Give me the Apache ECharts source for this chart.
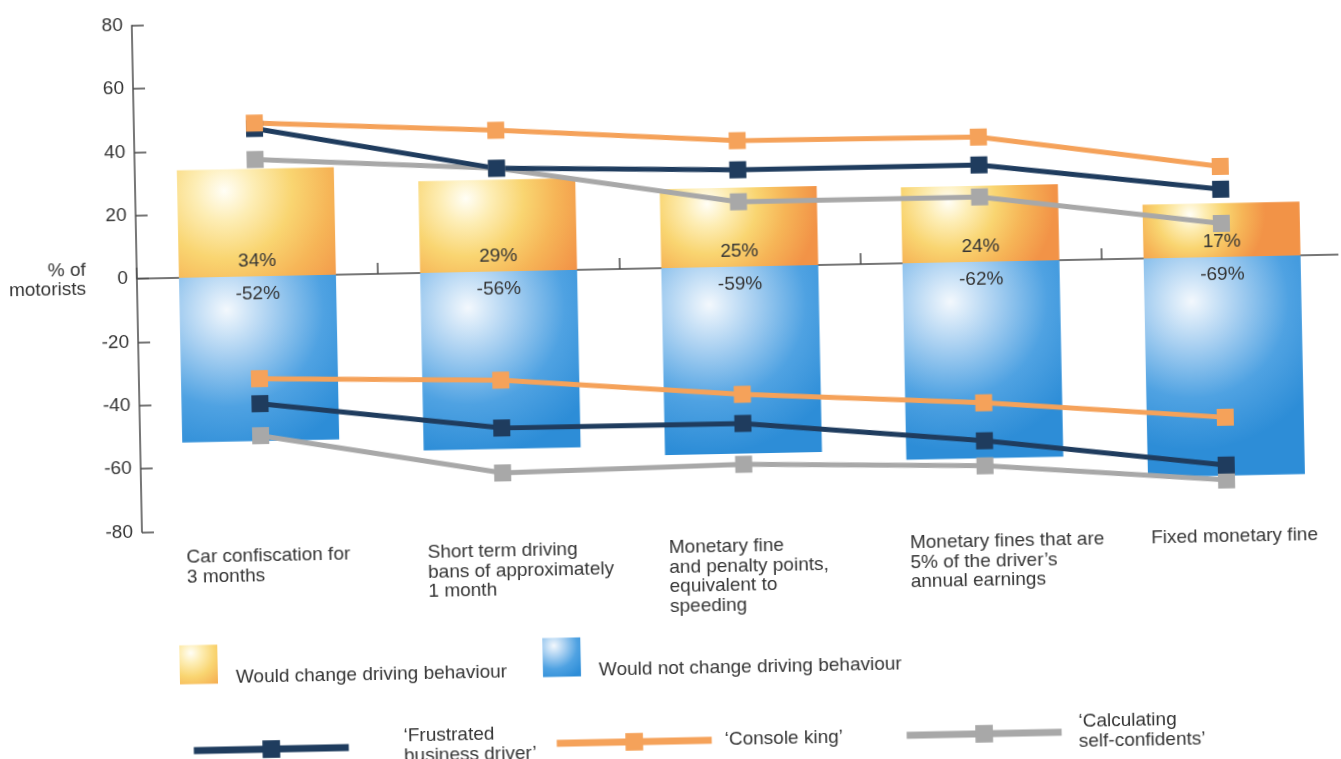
<!DOCTYPE html>
<html>
<head>
<meta charset="utf-8">
<title>Reactions of motorist types to penalties</title>
<script src="https://cdn.jsdelivr.net/npm/echarts@6/dist/echarts.min.js"></script>
<style>
  html, body { margin: 0; padding: 0; background: #ffffff; overflow: hidden; }
  #chart { width: 1341px; height: 759px; transform: rotate(-1.15deg); transform-origin: 50% 50%; }
</style>
</head>
<body>
<div id="chart"></div>
<script>
// Penalty types along the horizontal axis
const categories = [
  'Car confiscation for\n3 months',
  'Short term driving\nbans of approximately\n1 month',
  'Monetary fine\nand penalty points,\nequivalent to\nspeeding',
  'Monetary fines that are\n5% of the driver\u2019s\nannual earnings',
  'Fixed monetary fine'
];

// Share of all motorists (bars)
const wouldChange = [34, 29, 25, 24, 17];
const wouldNotChange = [-52, -56, -59, -62, -69];

// Motorist types: upper line = would change, lower line = would not change
const frustratedChange = [46.7, 32.6, 30.6, 30.6, 21.4];
const frustratedNoChange = [-40.2, -49.4, -49.5, -56.5, -65.7];
const consoleChange = [48.4, 44.6, 39.8, 39.4, 28.6];
const consoleNoChange = [-32.3, -34.3, -40.3, -44.5, -50.6];
const calculatingChange = [36.9, 32.6, 20.5, 20.5, 10.6];
const calculatingNoChange = [-50.3, -63.6, -62.4, -64.4, -70.4];

// Value axis
const yMin = -80, yMax = 80, yStep = 20;
const yAxisName = '% of\nmotorists';

// Legend names
const barNames = ['Would change driving behaviour', 'Would not change driving behaviour'];
const typeNames = ['\u2018Frustrated business driver\u2019', '\u2018Console king\u2019', '\u2018Calculating self-confidents\u2019'];
const typeLabels = ['\u2018Frustrated\nbusiness driver\u2019', '\u2018Console king\u2019', '\u2018Calculating\nself-confidents\u2019'];

const FONT = '"Liberation Sans", Arial, Helvetica, sans-serif';
const TEXT = '#353535';
const AXIS = '#4a4a4a';
const NAVY = '#1f3c5e';
const ORANGE = '#f5a25a';
const GREY = '#a8a8a8';

const yellowFill = {
  type: 'radial', x: 0.3, y: 0.2, r: 1.4,
  colorStops: [
    { offset: 0, color: '#fffef6' },
    { offset: 0.2, color: '#fdedb4' },
    { offset: 0.45, color: '#f9d571' },
    { offset: 0.7, color: '#f6b557' },
    { offset: 1, color: '#f29347' }
  ]
};
const blueFill = {
  type: 'radial', x: 0.3, y: 0.2, r: 0.95,
  colorStops: [
    { offset: 0, color: '#f3f8fd' },
    { offset: 0.3, color: '#a9d0f1' },
    { offset: 0.65, color: '#4fa2e2' },
    { offset: 1, color: '#2d8dd7' }
  ]
};

function wrapCategory(value) {
  return value.split('\n').map(function (line) { return '{c|' + line + '}'; }).join('\n');
}

function lineSeries(name, data, color) {
  return {
    name: name,
    type: 'line',
    data: data,
    symbol: 'rect',
    symbolSize: 17,
    z: 5,
    color: color,
    itemStyle: { color: color },
    lineStyle: { color: color, width: 5 },
    emphasis: { disabled: true },
    animation: false
  };
}

function typeLegend(i, left, top) {
  return {
    data: [typeNames[i]],
    left: left,
    top: top,
    itemWidth: 155,
    itemHeight: 22,
    padding: 0,
    lineStyle: { width: 7 },
    formatter: function () { return typeLabels[i]; },
    textStyle: { fontFamily: FONT, fontSize: 19, color: TEXT, lineHeight: 20, padding: [0, 0, 0, [50, 8, 12][i]] }
  };
}

const chart = echarts.init(document.getElementById('chart'), null, { renderer: 'canvas' });

chart.setOption({
  backgroundColor: '#ffffff',
  animation: false,
  textStyle: { fontFamily: FONT },
  grid: { left: 139, top: 14.7, width: 1206, height: 506.8, containLabel: false, outerBoundsMode: 'none' },
  legend: [
    {
      data: barNames,
      left: 174,
      top: 628,
      padding: 0,
      itemWidth: 38,
      itemHeight: 39,
      itemGap: 36,
      icon: 'rect',
      formatter: function (name) { return '\n' + name; },
      textStyle: { fontFamily: FONT, fontSize: 19, color: TEXT, lineHeight: 27, padding: [0, 0, 0, 13] }
    },
    typeLegend(0, 183, 721),
    typeLegend(1, 546, 731),
    typeLegend(2, 896, 720)
  ],
  xAxis: [
    {
      // zero line with upward boundary ticks
      type: 'category',
      data: categories,
      position: 'top',
      axisLine: { onZero: true, lineStyle: { color: AXIS, width: 1.5 } },
      axisTick: { show: true, inside: false, length: 11, lineStyle: { color: AXIS, width: 1.5 } },
      axisLabel: { show: false },
      splitLine: { show: false }
    },
    {
      // category names under the plot
      type: 'category',
      data: categories,
      position: 'bottom',
      axisLine: { show: false, onZero: false },
      axisTick: { show: false },
      axisLabel: {
        margin: 17,
        align: 'center',
        verticalAlign: 'top',
        interval: 0,
        formatter: wrapCategory,
        rich: { c: { width: 153, align: 'left', fontFamily: FONT, fontSize: 19, lineHeight: 19.5, color: TEXT } }
      },
      splitLine: { show: false }
    }
  ],
  yAxis: {
    type: 'value',
    min: yMin,
    max: yMax,
    interval: yStep,
    name: yAxisName,
    nameLocation: 'middle',
    nameRotate: 0,
    nameGap: 51,
    nameTextStyle: { fontFamily: FONT, fontSize: 19, color: TEXT, align: 'right', verticalAlign: 'middle', lineHeight: 19 },
    axisLine: { show: true, lineStyle: { color: AXIS, width: 1.5 } },
    axisTick: { show: true, inside: true, length: 12, lineStyle: { color: AXIS, width: 1.5 } },
    axisLabel: { margin: 9, fontFamily: FONT, fontSize: 19, color: TEXT },
    splitLine: { show: false }
  },
  series: [
    {
      name: barNames[0],
      type: 'bar',
      data: wouldChange,
      barWidth: 157,
      barGap: '-100%',
      itemStyle: { color: yellowFill },
      label: { show: true, position: 'insideBottom', distance: 6, formatter: '{c}%', fontFamily: FONT, fontSize: 19, color: TEXT },
      emphasis: { disabled: true }
    },
    {
      name: barNames[1],
      type: 'bar',
      data: wouldNotChange,
      barWidth: 157,
      barGap: '-100%',
      itemStyle: { color: blueFill },
      label: { show: true, position: 'insideTop', distance: 8, formatter: '{c}%', fontFamily: FONT, fontSize: 19, color: TEXT },
      emphasis: { disabled: true }
    },
    lineSeries(typeNames[2], calculatingChange, GREY),
    lineSeries(typeNames[2], calculatingNoChange, GREY),
    lineSeries(typeNames[0], frustratedChange, NAVY),
    lineSeries(typeNames[0], frustratedNoChange, NAVY),
    lineSeries(typeNames[1], consoleChange, ORANGE),
    lineSeries(typeNames[1], consoleNoChange, ORANGE)
  ]
});
</script>
</body>
</html>
